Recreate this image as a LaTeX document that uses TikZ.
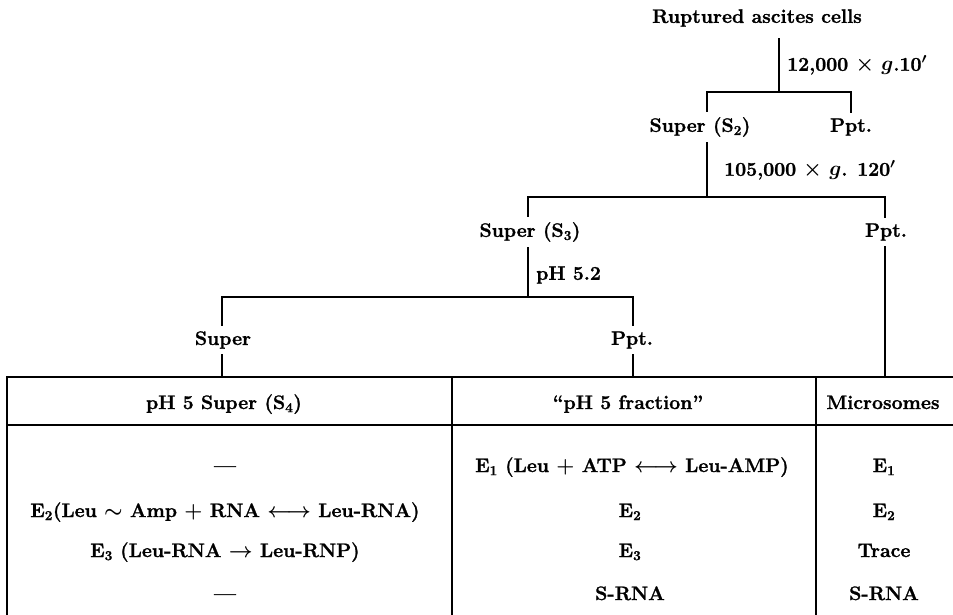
\documentclass[tikz,border=0pt]{standalone}
\usepackage{fontspec}
\setmainfont{Latin Modern Roman}[BoldFeatures={FakeBold=1.3}]
\newcommand{\sbx}[1]{\textsubscript{#1}}
\begin{document}
\begin{tikzpicture}[x=1pt,y=-1pt,
  txt/.style={font=\fontsize{19.5}{23}\selectfont\bfseries\boldmath},
  lbl/.style={txt, inner xsep=2pt, inner ysep=6pt},
  caption/.style={txt, anchor=west, inner sep=0pt},
  cell/.style={txt, anchor=base, inner sep=0pt},
  rule/.style={line width=1.5pt, line cap=rect}]
\useasboundingbox (0,0) rectangle (953,614);

% tree labels
\node[lbl, inner ysep=12pt] (rac) at (757,18) {Ruptured ascites cells};
\node[lbl] (s2) at (700,127) {Super (S\sbx{2})};
\node[lbl] (p1) at (851,127) {Ppt.};
\node[lbl] (s3) at (530,232) {Super (S\sbx{3})};
\node[lbl] (p2) at (886,232) {Ppt.};
\node[lbl] (sup) at (223,340) {Super};
\node[lbl] (p3) at (632,340) {Ppt.};

\node[caption] (c1) at (787,65) {12,000 $\times$ $g$.10$'$};
\node[caption] (c2) at (724,170) {105,000 $\times$ $g$. 120$'$};
\node[caption] (c3) at (536,275) {pH 5.2};

% junctions
\coordinate (j1) at (779,92);
\coordinate (h1l) at (707,92);
\coordinate (h1r) at (851,92);
\coordinate (j2) at (707,197);
\coordinate (h2l) at (528,197);
\coordinate (h2r) at (885,197);
\coordinate (j3) at (528,297);
\coordinate (h3l) at (222,297);
\coordinate (h3r) at (633,297);
\coordinate (ttop) at (0,377);

\draw[rule] (rac.south -| j1) -- (j1);
\draw[rule] (h1l |- s2.north) -- (h1l) -- (h1r) -- (p1.north -| h1r);
\draw[rule] (s2.south -| j2) -- (j2);
\draw[rule] (h2l |- s3.north) -- (h2l) -- (h2r) -- (p2.north -| h2r);
\draw[rule] (s3.south -| j3) -- (j3);
\draw[rule] (h3l |- sup.north) -- (h3l) -- (h3r) -- (p3.north -| h3r);
\draw[rule] (sup.south -| h3l) -- (h3l |- ttop);
\draw[rule] (p3.south -| h3r) -- (h3r |- ttop);
\draw[rule] (p2.south -| h2r) -- (h2r |- ttop);

% table frame
\draw[rule] (7,614) -- (7,377) -- (953,377);
\draw[rule] (7,425) -- (953,425);
\draw[rule] (452,377) -- (452,614);
\draw[rule] (816,377) -- (816,614);

% headers
\node[cell] (ha) at (224,409) {pH 5 Super (S\sbx{4})};
\node[cell] (hb) at (628,409) {``pH 5 fraction''};
\node[cell] (hc) at (883,409) {Microsomes};

% column A
\node[cell] (a1) at (225,472) {---};
\node[cell] (a2) at (225,517) {E\sbx{2}(Leu $\sim$ Amp $+$ RNA $\longleftrightarrow$ Leu-RNA)};
\node[cell] (a3) at (225,557) {E\sbx{3} (Leu-RNA $\rightarrow$ Leu-RNP)};
\node[cell] (a4) at (225,600) {---};

% column B
\node[cell] (b1) at (632,472) {E\sbx{1} (Leu $+$ ATP $\longleftrightarrow$ Leu-AMP)};
\node[cell] (b2) at (630,517) {E\sbx{2}};
\node[cell] (b3) at (630,557) {E\sbx{3}};
\node[cell] (b4) at (630,600) {S-RNA};

% column C
\node[cell] (m1) at (884,472) {E\sbx{1}};
\node[cell] (m2) at (884,517) {E\sbx{2}};
\node[cell] (m3) at (884,557) {Trace};
\node[cell] (m4) at (884,600) {S-RNA};
\end{tikzpicture}
\end{document}
